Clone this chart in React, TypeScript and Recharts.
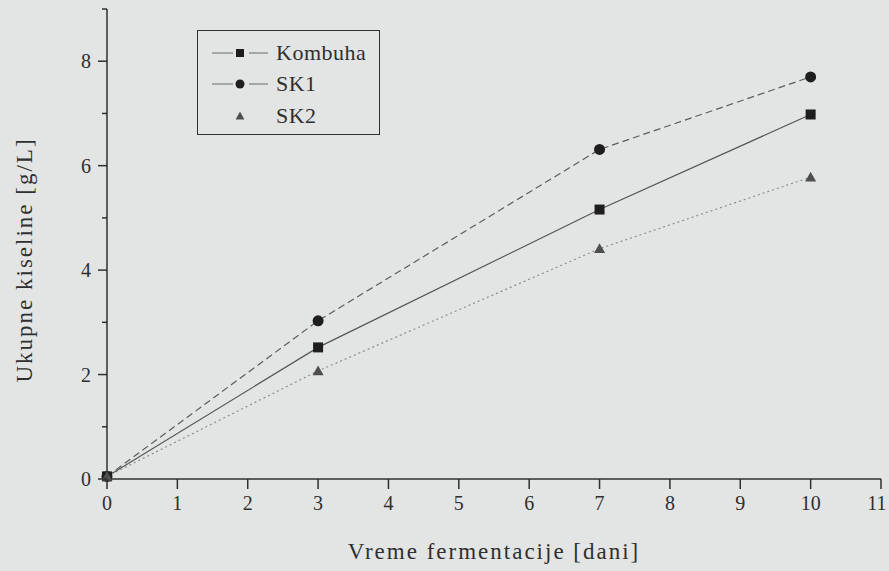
import { LineChart, Line, XAxis, YAxis, Legend, Label } from 'recharts'

// fermentation days and total acid content [g/L]
const days = [0, 3, 7, 10]
const kombuha = [0.05, 2.52, 5.16, 6.98]
const sk1 = [0.05, 3.03, 6.31, 7.7]
const sk2 = [0.05, 2.07, 4.41, 5.78]

const xTicks = [0, 1, 2, 3, 4, 5, 6, 7, 8, 9, 10, 11]
const yTicks = [0, 1, 2, 3, 4, 5, 6, 7, 8, 9]

const FONT = "'Liberation Serif', 'Times New Roman', serif"
const INK = '#2f2f2f'
const BG = '#e3e5e4'

const data = days.map((d, i) => ({ day: d, kombuha: kombuha[i], sk1: sk1[i], sk2: sk2[i] }))

type Shape = 'square' | 'circle' | 'triangle'

const series: {
  key: string
  name: string
  shape: Shape
  color: string
  fill: string
  dash?: string
  legendLine: boolean
}[] = [
  { key: 'kombuha', name: 'Kombuha', shape: 'square', color: '#555555', fill: '#1e1e1e', legendLine: true },
  { key: 'sk1', name: 'SK1', shape: 'circle', color: '#5c5c5c', fill: '#1e1e1e', dash: '7 4', legendLine: true },
  { key: 'sk2', name: 'SK2', shape: 'triangle', color: '#8c8c8c', fill: '#4e4e4e', dash: '2 3', legendLine: false },
]

const textStyle = { fontFamily: FONT }

function Marker({ shape, cx, cy, size, fill }: { shape: Shape; cx: number; cy: number; size: number; fill: string }) {
  if (shape === 'square') {
    return <rect x={cx - size / 2} y={cy - size / 2} width={size} height={size} fill={fill} />
  }
  if (shape === 'circle') {
    return <circle cx={cx} cy={cy} r={size / 2 + 0.5} fill={fill} />
  }
  const h = size * 0.55
  return (
    <polygon
      points={`${cx},${cy - h} ${cx - h},${cy + h * 0.8} ${cx + h},${cy + h * 0.8}`}
      fill={fill}
    />
  )
}

function XTick({ x, y, payload }: any) {
  // keep the last label inside the page edge
  const last = payload.value === xTicks[xTicks.length - 1]
  return (
    <g>
      <line x1={x} x2={x} y1={y} y2={y + 10} stroke={INK} strokeWidth={1.5} />
      <text x={last ? x - 4 : x} y={y + 31} textAnchor="middle" style={textStyle} fontSize={20} fill={INK}>
        {payload.value}
      </text>
    </g>
  )
}

function YTick({ x, y, payload }: any) {
  const major = payload.value % 2 === 0
  return (
    <g>
      <line x1={x - (major ? 9 : 5)} x2={x} y1={y} y2={y} stroke={INK} strokeWidth={1.5} />
      {major && (
        <text x={x - 16} y={y + 7} textAnchor="end" style={textStyle} fontSize={20} fill={INK}>
          {payload.value}
        </text>
      )}
    </g>
  )
}

function LegendBox() {
  return (
    <div
      style={{
        width: 183,
        height: 105,
        boxSizing: 'border-box',
        border: `1.5px solid ${INK}`,
        paddingTop: 6,
        fontFamily: FONT,
        fontSize: 22,
        color: INK,
      }}
    >
      {series.map((s) => (
        <div key={s.key} style={{ display: 'flex', alignItems: 'center', height: 31.5 }}>
          <svg width={78} height={20} style={{ display: 'block' }}>
            {s.legendLine && (
              <>
                <line x1={14} x2={35} y1={10} y2={10} stroke="#666" strokeWidth={1} />
                <line x1={51} x2={70} y1={10} y2={10} stroke="#666" strokeWidth={1} />
              </>
            )}
            <Marker shape={s.shape} cx={42} cy={10} size={8} fill={s.fill} />
          </svg>
          <span style={{ letterSpacing: 0.5, lineHeight: 1 }}>{s.name}</span>
        </div>
      ))}
    </div>
  )
}

export default function App() {
  return (
    <div style={{ width: 889, height: 571, background: BG }}>
      <style>{`body{margin:0;background:${BG}}`}</style>
      <LineChart width={889} height={571} data={data} margin={{ top: 9, right: 8, bottom: 0, left: 0 }}>
        <XAxis
          dataKey="day"
          type="number"
          domain={[0, 11]}
          ticks={xTicks}
          interval={0}
          height={92}
          tickSize={0}
          tickMargin={0}
          tickLine={false}
          axisLine={{ stroke: INK, strokeWidth: 1.5 }}
          tick={<XTick />}
        >
          <Label
            content={({ viewBox }: any) => (
              <text
                x={viewBox.x + viewBox.width / 2}
                y={viewBox.y + 80}
                textAnchor="middle"
                style={{ ...textStyle, letterSpacing: 2 }}
                fontSize={23}
                fill={INK}
              >
                Vreme fermentacije [dani]
              </text>
            )}
          />
        </XAxis>
        <YAxis
          type="number"
          domain={[0, 9]}
          ticks={yTicks}
          interval={0}
          width={107}
          tickSize={0}
          tickMargin={0}
          tickLine={false}
          axisLine={{ stroke: INK, strokeWidth: 1.5 }}
          tick={<YTick />}
        >
          <Label
            content={({ viewBox }: any) => {
              const cx = viewBox.x + 24
              const cy = viewBox.y + viewBox.height / 2 + 16
              return (
                <text
                  x={cx}
                  y={cy}
                  transform={`rotate(-90, ${cx}, ${cy})`}
                  textAnchor="middle"
                  dominantBaseline="central"
                  style={{ ...textStyle, letterSpacing: 2 }}
                  fontSize={23}
                  fill={INK}
                >
                  Ukupne kiseline [g/L]
                </text>
              )
            }}
          />
        </YAxis>
        <Legend
          layout="vertical"
          align="center"
          verticalAlign="middle"
          wrapperStyle={{ left: 197, top: 30, width: 183, height: 105 }}
          content={() => <LegendBox />}
        />
        {series.map((s) => (
          <Line
            key={s.key}
            dataKey={s.key}
            name={s.name}
            type="linear"
            stroke={s.color}
            strokeWidth={1.2}
            strokeDasharray={s.dash}
            isAnimationActive={false}
            dot={(p: any) => (
              <Marker key={`${s.key}-${p.index}`} shape={s.shape} cx={p.cx} cy={p.cy} size={10} fill={s.fill} />
            )}
            activeDot={false}
          />
        ))}
      </LineChart>
    </div>
  )
}
